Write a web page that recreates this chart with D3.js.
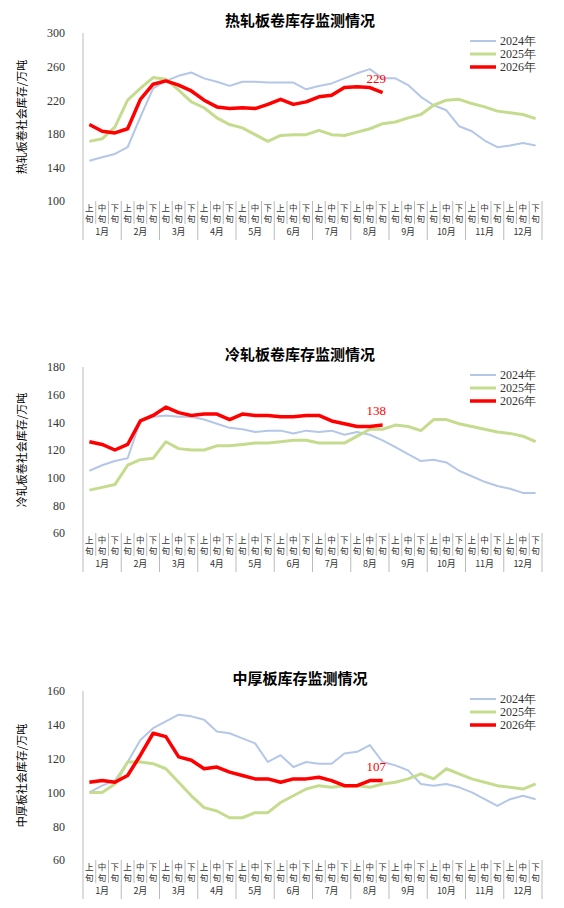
<!DOCTYPE html><html><head><meta charset="utf-8"><script src="https://cdn.jsdelivr.net/npm/d3@7"></script>
<style>body{margin:0;background:#fff}</style></head><body><svg id="c" width="564" height="908"></svg><script>
const months=["1月","2月","3月","4月","5月","6月","7月","8月","9月","10月","11月","12月"];
const xuns=["上","中","下"];
const seriesNames=["2024年","2025年","2026年"];
const colors=["#b4c7e7","#c5dc8f","#ff0000"];
const widths=[2,3,3.5];
const hot2024=[148,152,156,164,200,234,243,249,253,246,242,237,242,242,241,241,241,233,237,240,246,252,257,246,246,238,224,214,208,189,183,172,164,166,169,166];
const hot2025=[171,174,188,220,234,247,245,232,218,211,199,191,187,179,171,178,179,179,184,179,178,182,186,192,194,199,203,214,220,221,216,212,207,205,203,198];
const hot2026=[191,183,181,186,221,239,243,238,231,220,212,210,211,210,215,221,215,218,224,226,235,236,235,229];
const cold2024=[105,109,112,114,141,144,145,144,144,142,139,136,135,133,134,134,132,134,133,134,131,133,131,127,122,117,112,113,111,105,101,97,94,92,89,89];
const cold2025=[91,93,95,109,113,114,126,121,120,120,123,123,124,125,125,126,127,127,125,125,125,130,135,135,138,137,134,142,142,139,137,135,133,132,130,126];
const cold2026=[126,124,120,124,141,145,151,147,145,146,146,142,146,145,145,144,144,145,145,141,139,137,137,138];
const plate2024=[100,104,107,118,131,138,142,146,145,143,136,135,132,129,118,122,115,118,117,117,123,124,128,118,116,113,105,104,105,103,100,96,92,96,98,96];
const plate2025=[100,100,105,118,118,117,114,106,98,91,89,85,85,88,88,94,98,102,104,103,104,104,103,105,106,108,111,108,114,111,108,106,104,103,102,105];
const plate2026=[106,107,106,110,122,135,133,121,119,114,115,112,110,108,108,106,108,108,109,107,104,104,107,107];
const charts=[
 {title:"热轧板卷库存监测情况",ytitle:"热轧板卷社会库存/万吨",top:33,bot:201,dom:[100,300],ticks:[100,140,180,220,260,300],data:[hot2024,hot2025,hot2026],label:"229"},
 {title:"冷轧板卷库存监测情况",ytitle:"冷轧板卷社会库存/万吨",top:367,bot:533,dom:[60,180],ticks:[60,80,100,120,140,160,180],data:[cold2024,cold2025,cold2026],label:"138"},
 {title:"中厚板库存监测情况",ytitle:"中厚板社会库存/万吨",top:691,bot:860,dom:[60,160],ticks:[60,80,100,120,140,160],data:[plate2024,plate2025,plate2026],label:"107"}
];
const svg=d3.select("#c");
const L=83,R=542;
const cats=d3.range(36);
const x=d3.scaleBand().domain(cats).range([L,R]);
charts.forEach(c=>{
 const g=svg.append("g");
 const y=d3.scaleLinear().domain(c.dom).range([c.bot,c.top]);
 g.append("text").attr("x",300).attr("y",c.top-7).attr("text-anchor","middle").attr("font-family","Noto Sans CJK SC").attr("font-weight","bold").attr("font-size",15).text(c.title);
 g.append("text").attr("transform",`translate(26,${(c.top+c.bot)/2}) rotate(-90)`).attr("text-anchor","middle").attr("font-family","Noto Sans CJK SC").attr("font-size",11).text(c.ytitle);
 const ya=g.append("g").attr("transform",`translate(${L},0)`).call(d3.axisLeft(y).tickValues(c.ticks).tickSize(0).tickPadding(18));
 ya.select(".domain").remove();
 ya.selectAll("text").attr("font-family","Liberation Serif").attr("font-size",12).attr("fill","#333");
 const cb=c.bot+39;
 g.append("line").attr("x1",L).attr("x2",L).attr("y1",c.top).attr("y2",cb).attr("stroke","#bbb");
 cats.forEach(i=>{
  const xx=x(i)+x.bandwidth();
  g.append("line").attr("x1",xx).attr("x2",xx).attr("y1",c.bot).attr("y2",(i%3==2)?cb:c.bot+23).attr("stroke","#bbb");
  const cx=x(i)+x.bandwidth()/2;
  g.append("text").attr("x",cx).attr("y",c.bot+10).attr("text-anchor","middle").attr("font-family","Noto Sans CJK SC").attr("font-size",8.5).attr("fill","#333").text(xuns[i%3]);
  g.append("text").attr("x",cx).attr("y",c.bot+21).attr("text-anchor","middle").attr("font-family","Noto Sans CJK SC").attr("font-size",8.5).attr("fill","#333").text("旬");
 });
 months.forEach((m,k)=>{
  g.append("text").attr("x",x(k*3+1)+x.bandwidth()/2).attr("y",c.bot+34).attr("text-anchor","middle").attr("font-family","Noto Sans CJK SC").attr("font-size",9).attr("fill","#333").text(m);
 });
 const line=d3.line().x((d,i)=>x(i)+x.bandwidth()/2).y(d=>y(d));
 c.data.forEach((d,s)=>{
  g.append("path").attr("d",line(d)).attr("fill","none").attr("stroke",colors[s]).attr("stroke-width",widths[s]).attr("stroke-linejoin","round");
  const ly=c.top+8+s*13;
  g.append("line").attr("x1",470).attr("x2",496).attr("y1",ly).attr("y2",ly).attr("stroke",colors[s]).attr("stroke-width",widths[s]);
  g.append("text").attr("x",500).attr("y",ly+4).attr("font-family","Liberation Serif").attr("font-size",12).attr("fill","#333").text(seriesNames[s]);
 });
 const last=c.data[2];
 g.append("text").attr("x",x(23)).attr("y",y(last[last.length-1])-10).attr("text-anchor","middle").attr("font-family","Liberation Serif").attr("font-size",13).attr("fill","#ff0000").text(c.label);
});
</script></body></html>
